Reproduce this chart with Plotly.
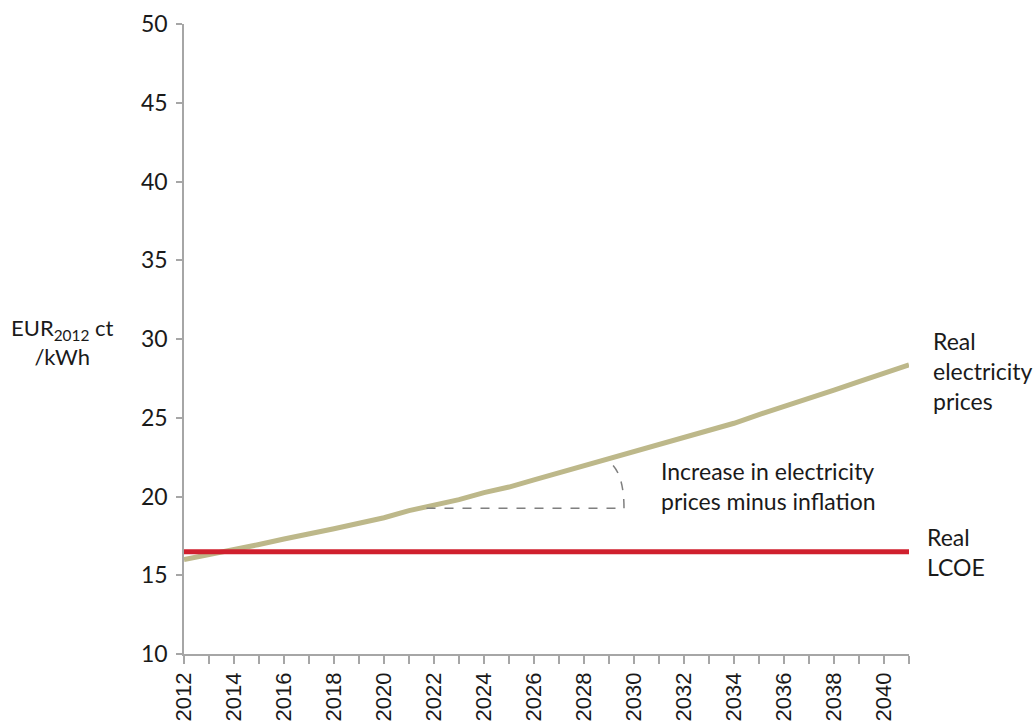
import plotly.graph_objects as go

# Years on the horizontal axis
years = list(range(2012, 2042))

# Real electricity prices (EUR2012 ct/kWh)
price = [16.0, 16.3, 16.6, 16.95, 17.3, 17.6, 17.95, 18.3, 18.65, 19.1,
         19.45, 19.8, 20.25, 20.6, 21.05, 21.5, 21.9, 22.35, 22.8, 23.25,
         23.75, 24.2, 24.65, 25.2, 25.7, 26.25, 26.75, 27.3, 27.8, 28.35]

# Real levelised cost of electricity (flat)
lcoe = [16.5] * len(years)

y_ticks = [10, 15, 20, 25, 30, 35, 40, 45, 50]
x_labels = list(range(2012, 2041, 2))

FONT = "Lato, 'Open Sans', Arial, sans-serif"
PRICE_COLOR = "#BDB88A"
LCOE_COLOR = "#D0202E"
AXIS_COLOR = "#A6A6A6"
TEXT_COLOR = "#1a1a1a"

fig = go.Figure()
fig.add_trace(go.Scatter(x=years, y=price, mode="lines",
                         line=dict(color=PRICE_COLOR, width=5),
                         name="Real electricity prices", hoverinfo="x+y"))
fig.add_trace(go.Scatter(x=years, y=lcoe, mode="lines",
                         line=dict(color=LCOE_COLOR, width=5),
                         name="Real LCOE", hoverinfo="x+y"))

# Dashed angle marking the real price increase
x0, x1 = 2021.7, 2029.6
y_base = 19.25
fig.add_shape(type="line", x0=x0, x1=x1, y0=y_base, y1=y_base,
              xref="x", yref="y",
              line=dict(color="#7F7F7F", width=1.5, dash="dash"))
fig.add_shape(type="path", xref="x", yref="y",
              path=f"M {x1},{y_base} Q {x1},{21.2} {x1 - 0.45},{22.0}",
              line=dict(color="#7F7F7F", width=1.5, dash="dash"))

fig.add_annotation(x=2031.0, y=20.64, xref="x", yref="y",
                   text="Increase in electricity<br>prices minus inflation",
                   showarrow=False, xanchor="left", yanchor="middle", align="left",
                   font=dict(family=FONT, size=23, color=TEXT_COLOR))
fig.add_annotation(x=1.030, y=28.0, xref="paper", yref="y",
                   text="Real<br>electricity<br>prices",
                   showarrow=False, xanchor="left", yanchor="middle", align="left",
                   font=dict(family=FONT, size=23, color=TEXT_COLOR))
fig.add_annotation(x=1.022, y=16.48, xref="paper", yref="y",
                   text="Real<br>LCOE",
                   showarrow=False, xanchor="left", yanchor="middle", align="left",
                   font=dict(family=FONT, size=23, color=TEXT_COLOR))
fig.add_annotation(x=-0.168, y=29.8, xref="paper", yref="y",
                   text="EUR<sub>2012</sub> ct<br>/kWh",
                   showarrow=False, xanchor="center", yanchor="middle", align="center",
                   font=dict(family=FONT, size=22, color=TEXT_COLOR))

fig.update_layout(
    width=1034, height=727,
    margin=dict(l=184, r=125, t=24, b=73),
    plot_bgcolor="white", paper_bgcolor="white",
    showlegend=False,
    font=dict(family=FONT, size=19, color=TEXT_COLOR),
    xaxis=dict(range=[2012, 2041], tickmode="array", tickvals=x_labels,
               ticktext=[str(v) for v in x_labels], tickangle=-90,
               ticks="outside", ticklen=8,
               tickcolor=AXIS_COLOR, tickwidth=1.5, showline=True,
               linecolor=AXIS_COLOR, linewidth=1.5, showgrid=False,
               zeroline=False, automargin=False,
               minor=dict(tick0=2012, dtick=1, ticks="outside", ticklen=8,
                          tickcolor=AXIS_COLOR, tickwidth=1.5, showgrid=False),
               tickfont=dict(family="Liberation Sans, Arial", size=22, color=TEXT_COLOR)),
    yaxis=dict(range=[10, 50], tickmode="array", tickvals=y_ticks,
               ticks="outside", ticklen=6, tickcolor=AXIS_COLOR, tickwidth=1.5,
               showline=True, linecolor=AXIS_COLOR, linewidth=1.5,
               showgrid=False, zeroline=False, ticklabelstandoff=4,
               automargin=False,
               tickfont=dict(family=FONT, size=23, color=TEXT_COLOR)),
)

fig.write_html("out.html")
